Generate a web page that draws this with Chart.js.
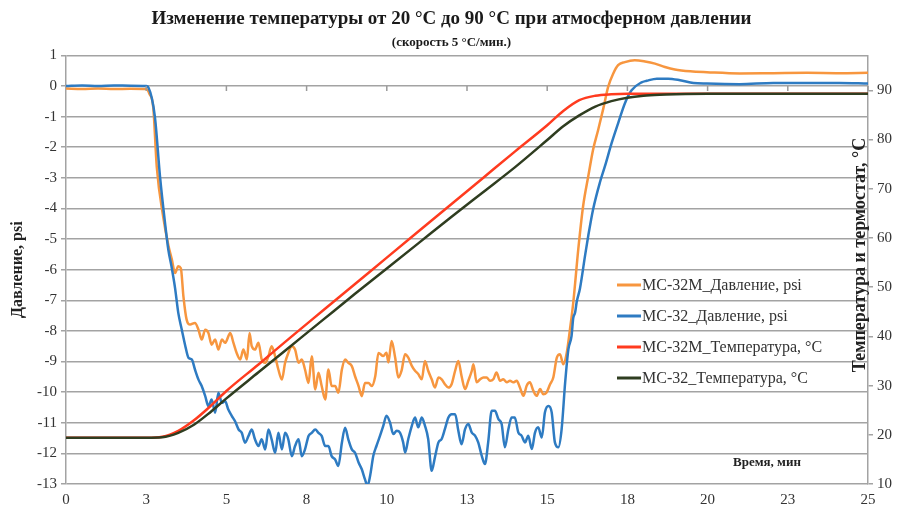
<!doctype html>
<html lang="ru">
<head>
    <meta charset="UTF-8">
    <title>Изменение температуры</title>
    <script src="https://cdn.jsdelivr.net/npm/chart.js"></script>
    <style>
        body { margin: 0; background: #fff; }
    </style>
</head>
<body>
    <canvas id="tempChart" width="903" height="512"></canvas>
    <script>
        // MC-32M pressure, psi
        const timeP32M = [0, 0.5, 1, 1.5, 2, 2.5, 2.6, 2.72, 2.83, 3.03, 3.19, 3.3, 3.4, 3.5, 3.58, 3.66, 3.76, 3.87, 4.02, 4.13,
            4.23, 4.34, 4.44, 4.54, 4.65, 4.75, 4.86, 4.96, 5.12, 5.22, 5.32, 5.43, 5.53, 5.64, 5.72, 5.79, 5.89, 6.0, 6.1, 6.21,
            6.31, 6.41, 6.52, 6.62, 6.73, 6.83, 6.93, 7.04, 7.14, 7.25, 7.35, 7.45, 7.56, 7.66, 7.77, 7.87, 7.97, 8.08, 8.18, 8.28,
            8.39, 8.49, 8.6, 8.7, 8.8, 8.91, 9.01, 9.12, 9.22, 9.32, 9.43, 9.53, 9.64, 9.74, 9.89, 9.99, 10.05, 10.15, 10.26, 10.36,
            10.46, 10.57, 10.67, 10.78, 10.88, 10.98, 11.09, 11.19, 11.29, 11.4, 11.5, 11.61, 11.71, 11.81, 11.92, 12.02, 12.13, 12.23, 12.33, 12.44,
            12.54, 12.65, 12.7, 12.8, 12.91, 13.01, 13.11, 13.22, 13.32, 13.42, 13.53, 13.63, 13.74, 13.84, 13.94, 14.05, 14.15, 14.26, 14.36, 14.46,
            14.57, 14.67, 14.78, 14.88, 14.98, 15.09, 15.19, 15.3, 15.4, 15.5, 15.61, 15.71, 15.81, 15.97, 16.12, 16.28, 16.43, 16.59, 16.75, 16.9,
            17.06, 17.21, 17.42, 17.73, 18.05, 18.36, 18.67, 18.98, 19.46, 19.98, 21, 22.05, 23.1, 24.1, 25];
        const pressure32M = [-0.08, -0.1, -0.08, -0.1, -0.09, -0.1, -0.25, -0.7, -2.65, -4.27, -5.2, -5.67, -6.11, -5.89, -5.95, -6.87, -7.63, -7.79, -7.74, -7.96,
            -8.28, -7.96, -8.07, -8.45, -8.28, -8.61, -8.28, -8.39, -8.07, -8.39, -8.72, -8.93, -8.61, -8.93, -8.07, -8.5, -8.61, -8.39, -8.93, -9.04,
            -8.83, -8.5, -8.83, -9.26, -9.59, -9.04, -8.72, -8.5, -8.61, -9.04, -8.93, -9.26, -9.7, -8.83, -9.91, -9.37, -9.8, -10.24, -9.26, -9.8,
            -9.8, -10.02, -9.26, -8.93, -9.04, -9.15, -9.48, -9.8, -10.13, -9.7, -9.7, -9.8, -9.48, -8.72, -8.82, -8.71, -9.03, -8.33, -8.87, -9.52,
            -9.3, -8.76, -8.87, -9.14, -9.3, -9.41, -9.58, -8.98, -9.3, -9.58, -9.85, -9.52, -9.58, -9.74, -9.85, -9.74, -9.3, -8.98, -9.47, -9.9,
            -9.63, -9.3, -9.09, -9.68, -9.58, -9.52, -9.52, -9.63, -9.58, -9.36, -9.63, -9.58, -9.68, -9.63, -9.68, -9.63, -9.85, -10.12, -9.79, -9.68,
            -9.96, -10.12, -9.9, -10.07, -10.01, -9.74, -9.52, -8.87, -8.76, -9.09, -8.71, -7.95, -7.1, -5.32, -3.92, -2.95, -2.08, -1.43, -0.73, -0.03,
            0.41, 0.68, 0.78, 0.84, 0.8, 0.73, 0.62, 0.54, 0.48, 0.45, 0.41, 0.42, 0.43, 0.42, 0.43];

        // MC-32 pressure, psi
        const timeP32 = [0, 0.5, 1, 1.5, 2, 2.5, 2.57, 2.77, 2.93, 3.09, 3.19, 3.29, 3.4, 3.5, 3.61, 3.71, 3.82, 3.92, 4.02, 4.13,
            4.23, 4.34, 4.44, 4.54, 4.65, 4.75, 4.86, 4.96, 5.06, 5.17, 5.27, 5.38, 5.48, 5.58, 5.69, 5.79, 5.89, 6.0, 6.1, 6.21,
            6.31, 6.41, 6.52, 6.62, 6.73, 6.83, 6.93, 7.04, 7.14, 7.25, 7.35, 7.45, 7.56, 7.66, 7.77, 7.87, 7.97, 8.08, 8.18, 8.28,
            8.39, 8.49, 8.6, 8.7, 8.8, 8.91, 9.01, 9.12, 9.22, 9.32, 9.4, 9.48, 9.58, 9.68, 9.79, 9.89, 9.99, 10.1, 10.2, 10.31,
            10.41, 10.51, 10.57, 10.67, 10.78, 10.88, 10.98, 11.09, 11.19, 11.29, 11.4, 11.5, 11.61, 11.71, 11.81, 11.92, 12.02, 12.13, 12.23, 12.33,
            12.44, 12.54, 12.65, 12.75, 12.85, 12.96, 13.06, 13.16, 13.27, 13.37, 13.48, 13.58, 13.68, 13.79, 13.89, 13.99, 14.1, 14.2, 14.31, 14.41,
            14.52, 14.62, 14.72, 14.83, 14.93, 15.04, 15.14, 15.24, 15.35, 15.45, 15.56, 15.66, 15.76, 15.81, 15.87, 15.92, 16.02, 16.18, 16.28, 16.43,
            16.64, 16.8, 17.01, 17.21, 17.42, 17.63, 17.94, 18.1, 18.42, 18.77, 19.14, 19.56, 19.98, 21, 22.05, 23.1, 24.1, 25];
        const pressure32 = [0, 0.02, 0, 0.02, 0.01, 0, -0.05, -1.0, -2.95, -4.5, -5.35, -5.9, -6.6, -7.41, -7.96, -8.45, -8.88, -8.93, -9.26, -9.59,
            -9.8, -10.13, -10.46, -10.24, -10.67, -10.02, -10.35, -10.29, -10.57, -10.78, -10.95, -11.22, -11.33, -11.65, -11.43, -11.22, -11.54, -11.76, -11.54, -11.87,
            -11.22, -11.54, -11.98, -11.33, -11.87, -11.33, -11.54, -12.09, -11.76, -11.54, -12.09, -11.87, -11.43, -11.33, -11.22, -11.33, -11.43, -11.76, -11.76, -12.09,
            -12.2, -12.41, -11.65, -11.16, -11.54, -11.87, -11.98, -12.3, -12.52, -12.85, -13.05, -12.73, -12.08, -11.75, -11.42, -11.1, -10.77, -10.99, -11.37, -11.26,
            -11.32, -11.64, -11.97, -11.53, -11.1, -10.83, -11.15, -10.83, -11.1, -11.53, -12.57, -12.13, -11.64, -11.53, -11.21, -10.83, -10.72, -10.72, -11.26, -11.7,
            -11.21, -11.04, -11.32, -11.42, -11.64, -12.08, -12.35, -11.64, -10.61, -10.61, -10.88, -11.04, -11.8, -11.21, -10.83, -10.83, -11.32, -11.42, -11.64, -11.42,
            -11.86, -11.32, -11.15, -11.48, -10.66, -10.45, -10.66, -11.64, -11.8, -11.21, -9.68, -8.6, -8.16, -7.59, -7.4, -7.05, -6.62, -5.54, -4.89, -4.03,
            -3.16, -2.62, -1.86, -1.22, -0.57, -0.14, 0.12, 0.17, 0.24, 0.24, 0.19, 0.1, 0.08, 0.06, 0.1, 0.1, 0.1, 0.08];

        // temperatures, °C (right axis)
        const timeT = [0, 2.5, 3.0, 3.5, 4.0, 4.5, 5, 6, 7, 8, 9, 10, 11, 12, 13, 14, 15, 15.5, 16, 16.5, 17, 17.5, 18, 18.5, 19, 20, 25];
        const temp32M = [19.4, 19.4, 19.6, 20.8, 23.0, 25.8, 28.9, 34.3, 39.8, 45.2, 50.6, 56.0, 61.4, 66.8, 72.2, 77.6, 82.9, 85.8, 88.0, 88.9, 89.2, 89.3, 89.3, 89.3, 89.3, 89.3, 89.3];
        const temp32 = [19.4, 19.4, 19.5, 20.4, 22.1, 24.6, 27.4, 32.7, 38.0, 43.3, 48.6, 53.8, 59.0, 64.2, 69.3, 74.4, 79.9, 82.7, 84.9, 86.7, 87.8, 88.5, 88.9, 89.1, 89.2, 89.3, 89.3];

        const seriesNames = ['МС-32М_Давление, psi', 'МС-32_Давление, psi', 'МС-32М_Температура, °С', 'МС-32_Температура, °С'];
        const seriesColors = ['#f7963f', '#2e7bc2', '#ff3b1f', '#2f3d20'];

        const serif = "'Liberation Serif', 'Times New Roman', serif";

        function toPoints(xs, ys) {
            return xs.map((x, i) => ({ x: x, y: ys[i] }));
        }

        // texts drawn inside the plot: legend, right axis title, x axis title, ticks on the zero line
        const extras = {
            id: 'extras',
            afterDraw(chart) {
                const ctx = chart.ctx;
                const xs = chart.scales.x;
                const y0 = chart.scales.y.getPixelForValue(0);
                ctx.save();

                ctx.strokeStyle = '#9a9a9a';
                ctx.lineWidth = 1.5;
                xs.ticks.forEach(t => {
                    if (t.value === 0) return;
                    const px = xs.getPixelForValue(t.value);
                    ctx.beginPath();
                    ctx.moveTo(px, y0);
                    ctx.lineTo(px, y0 + 5);
                    ctx.stroke();
                });

                // legend
                ctx.font = '16px ' + serif;
                ctx.textBaseline = 'middle';
                ctx.textAlign = 'left';
                chart.data.datasets.forEach((ds, i) => {
                    const ly = 285 + i * 31;
                    ctx.strokeStyle = ds.borderColor;
                    ctx.lineWidth = 3;
                    ctx.beginPath();
                    ctx.moveTo(617, ly);
                    ctx.lineTo(641, ly);
                    ctx.stroke();
                    ctx.fillStyle = '#333';
                    ctx.fillText(ds.label, 642, ly + 1);
                });

                // right axis title
                ctx.font = 'bold 18px ' + serif;
                ctx.fillStyle = '#222';
                ctx.textAlign = 'center';
                ctx.translate(860, 255);
                ctx.rotate(-Math.PI / 2);
                ctx.fillText('Температура и термостат, °С', 0, 0);
                ctx.setTransform(1, 0, 0, 1, 0, 0);

                // x axis title
                ctx.font = 'bold 13px ' + serif;
                ctx.fillText('Время, мин', 767, 463);
                ctx.restore();
            }
        };

        const ctx = document.getElementById('tempChart').getContext('2d');
        const chart = new Chart(ctx, {
            type: 'line',
            data: {
                datasets: [
                    { label: seriesNames[0], data: toPoints(timeP32M, pressure32M), borderColor: seriesColors[0], yAxisID: 'y', order: 4 },
                    { label: seriesNames[1], data: toPoints(timeP32, pressure32), borderColor: seriesColors[1], yAxisID: 'y', order: 3 },
                    { label: seriesNames[2], data: toPoints(timeT, temp32M), borderColor: seriesColors[2], yAxisID: 'y1', order: 2 },
                    { label: seriesNames[3], data: toPoints(timeT, temp32), borderColor: seriesColors[3], yAxisID: 'y1', order: 1 }
                ]
            },
            options: {
                responsive: false,
                animation: false,
                events: [],
                elements: {
                    point: { radius: 0 },
                    line: { borderWidth: 2.5, cubicInterpolationMode: 'monotone', fill: false }
                },
                plugins: {
                    legend: { display: false },
                    tooltip: { enabled: false },
                    title: {
                        display: true,
                        text: 'Изменение температуры от 20 °С до 90 °С при атмосферном давлении',
                        color: '#1a1a1a',
                        font: { family: serif, size: 19, weight: 'bold' },
                        padding: { top: 8, bottom: 2 }
                    },
                    subtitle: {
                        display: true,
                        text: '(скорость 5 °С/мин.)',
                        color: '#1a1a1a',
                        font: { family: serif, size: 13, weight: 'bold' },
                        padding: { top: 2, bottom: 5 }
                    }
                },
                scales: {
                    x: {
                        type: 'linear',
                        min: 0,
                        max: 25,
                        grid: { display: false, drawTicks: false },
                        border: { display: false },
                        ticks: {
                            stepSize: 2.5,
                            padding: 7,
                            color: '#333',
                            font: { family: serif, size: 15 },
                            callback: v => Math.round(v)
                        },
                        afterFit: s => { s.height = 28; }
                    },
                    y: {
                        position: 'left',
                        min: -13,
                        max: 1,
                        grid: { color: '#a3a3a3', lineWidth: 1.5, tickLength: 5 },
                        border: { color: '#a3a3a3', width: 1.5 },
                        ticks: { stepSize: 1, padding: 4, color: '#333', font: { family: serif, size: 15 } },
                        title: {
                            display: true,
                            text: 'Давление, psi',
                            color: '#222',
                            font: { family: serif, size: 16, weight: 'bold' },
                            padding: { top: 8, bottom: 0 }
                        },
                        afterFit: s => { s.width = 66; }
                    },
                    y1: {
                        position: 'right',
                        min: 10,
                        max: 97.1,
                        grid: { drawOnChartArea: false, color: '#a3a3a3', lineWidth: 1.5, tickLength: 5 },
                        border: { color: '#a3a3a3', width: 1.5 },
                        ticks: { stepSize: 10, includeBounds: false, padding: 4, color: '#333', font: { family: serif, size: 15 } },
                        afterFit: s => { s.width = 35; }
                    }
                }
            },
            plugins: [extras]
        });
    </script>
</body>
</html>
